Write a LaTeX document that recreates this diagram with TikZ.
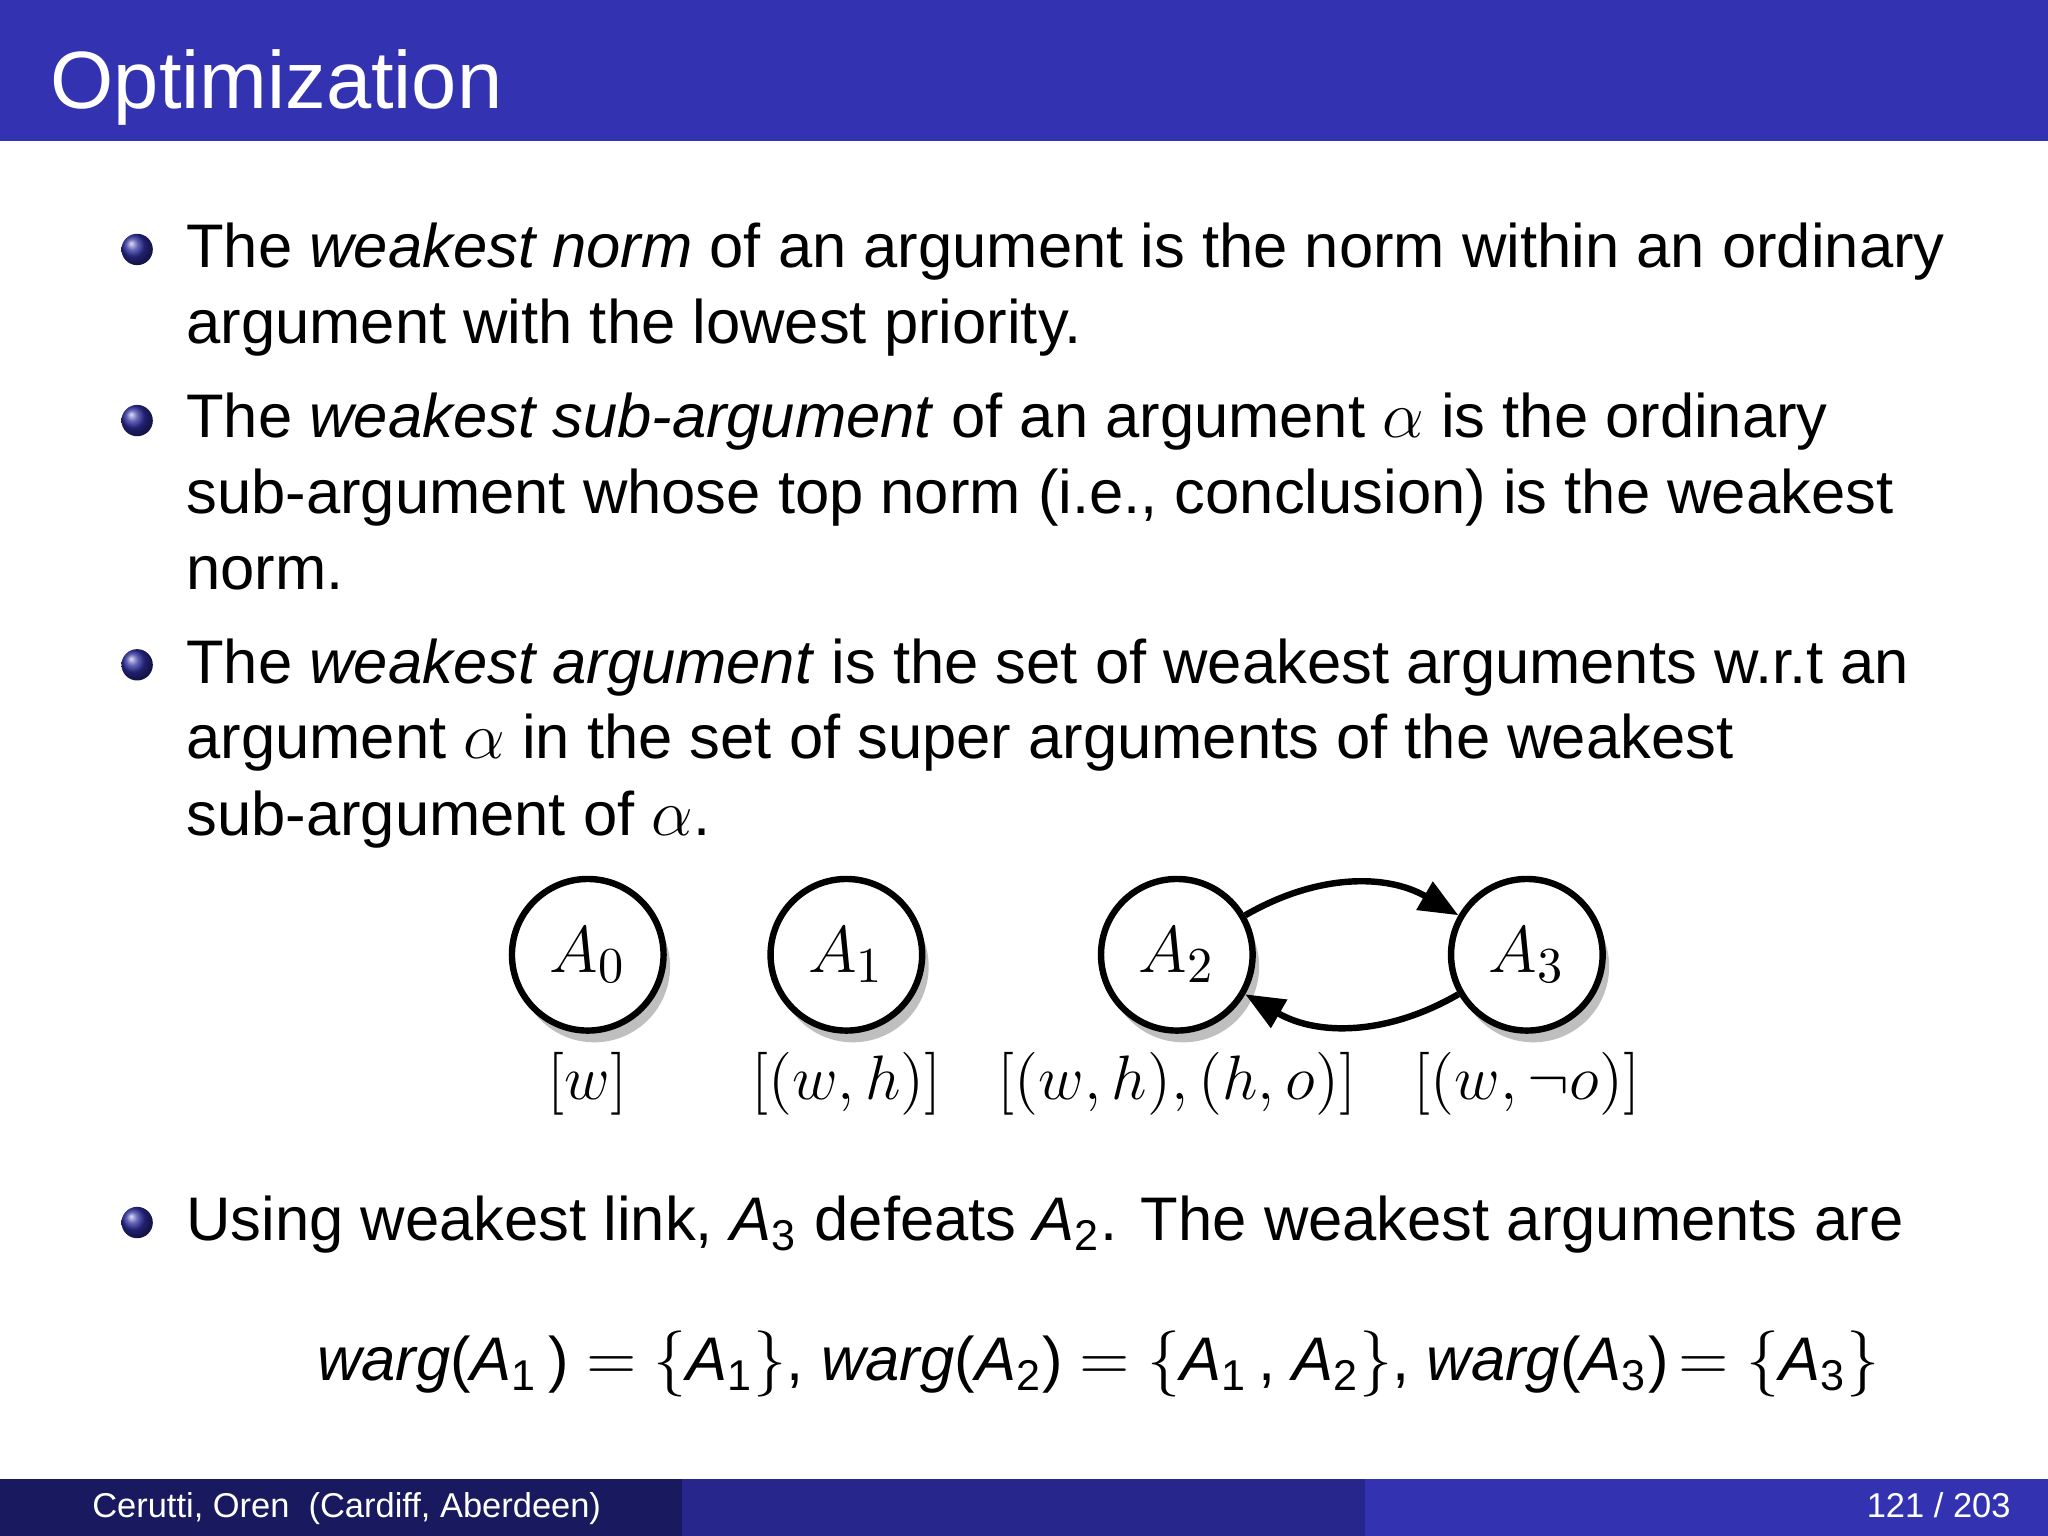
\documentclass[tikz,border=0pt]{standalone}
\usepackage{fontspec}
\setmainfont{Liberation Sans}
\usetikzlibrary{shadows,arrows.meta}
\definecolor{bar}{RGB}{51,51,178}
\definecolor{barmid}{RGB}{38,38,140}
\definecolor{bardark}{RGB}{25,25,95}
\newcommand{\lbx}[1]{\scalebox{0.95}{$#1$}}
\begin{document}
\begin{tikzpicture}[x=0.01cm,y=-0.01cm,
  txt/.style={anchor=base west,inner sep=0,font=\fontsize{13.4}{16}\selectfont},
  ball/.style={circle,inner sep=0,minimum size=0.24cm,ball color=bar!90!black,shading=ball},
  arg/.style={circle,draw,line width=1.4pt,minimum size=1.16cm,fill=white,drop shadow={shadow xshift=0.5mm,shadow yshift=-0.9mm,opacity=0.5}},
  lab/.style={anchor=base,inner sep=0,font=\fontsize{14.3}{18}\selectfont}]
\useasboundingbox (0,0) rectangle (1568,1176);
\fill[bar] (0,0) rectangle (1568,108);
\node[anchor=base west,inner sep=0,text=white,font=\fontsize{17.7}{20}\selectfont] (title) at (38,83) {Optimization};
\foreach \y [count=\i] in {191,322,509,936} \node[ball] (b\i) at (105,\y) {};
\node[txt] (l1) at (142,205) {The \textit{weakest norm} of an argument is the norm within an ordinary};
\node[txt] (l2) at (142,263) {argument with the lowest priority.};
\node[txt] (l3) at (142,335) {The \textit{weakest sub-argument} of an argument $\alpha$ is the ordinary};
\node[txt] (l4) at (142,393) {sub-argument whose top norm (i.e., conclusion) is the weakest};
\node[txt] (l5) at (142,451) {norm.};
\node[txt] (l6) at (142,523) {The \textit{weakest argument} is the set of weakest arguments w.r.t an};
\node[txt] (l7) at (142,581) {argument $\alpha$ in the set of super arguments of the weakest};
\node[txt] (l8) at (142,640) {sub-argument of $\alpha$.};
\node[arg] (a0) at (450,731) {\fontsize{15}{18}\selectfont$A_0$};
\node[arg] (a1) at (648,731) {\fontsize{15}{18}\selectfont$A_1$};
\node[arg] (a2) at (901,731) {\fontsize{15}{18}\selectfont$A_2$};
\node[arg] (a3) at (1169,731) {\fontsize{15}{18}\selectfont$A_3$};
\draw[line width=1.4pt,-{Triangle[length=3mm,width=2.4mm]}] (a2) to[bend left=30] (a3);
\draw[line width=1.4pt,-{Triangle[length=3mm,width=2.4mm]}] (a3) to[bend left=30] (a2);
\node[lab] (w0) at (450,842) {\lbx{[w]}};
\node[lab] (w1) at (648,842) {\lbx{[(w,h)]}};
\node[lab] (w2) at (901,842) {\lbx{[(w,h),(h,o)]}};
\node[lab] (w3) at (1169,842) {\lbx{[(w,\neg o)]}};
\node[txt] (l9) at (142,950) {Using weakest link, \textit{A}\textsubscript{3} defeats \textit{A}\textsubscript{2}. The weakest arguments are};
\node[txt] (f) at (242,1057) {\textit{warg}(\textit{A}\textsubscript{1}\,)\;$=$\;$\{$\textit{A}\textsubscript{1}$\}$, \textit{warg}(\textit{A}\textsubscript{2})\;$=$\;$\{$\textit{A}\textsubscript{1}\,, \textit{A}\textsubscript{2}$\}$, \textit{warg}(\textit{A}\textsubscript{3})\,$=$\;$\{$\textit{A}\textsubscript{3}$\}$};
\fill[bardark] (0,1132) rectangle (522,1176);
\fill[barmid] (522,1132) rectangle (1045,1176);
\fill[bar] (1045,1132) rectangle (1568,1176);
\node[anchor=base west,inner sep=0,text=white,font=\fontsize{7.5}{9}\selectfont] (fl) at (70,1162) {Cerutti, Oren\ \ (Cardiff, Aberdeen)};
\node[anchor=base east,inner sep=0,text=white,font=\fontsize{7.5}{9}\selectfont] (fr) at (1540,1162) {121 / 203};
\end{tikzpicture}
\end{document}
